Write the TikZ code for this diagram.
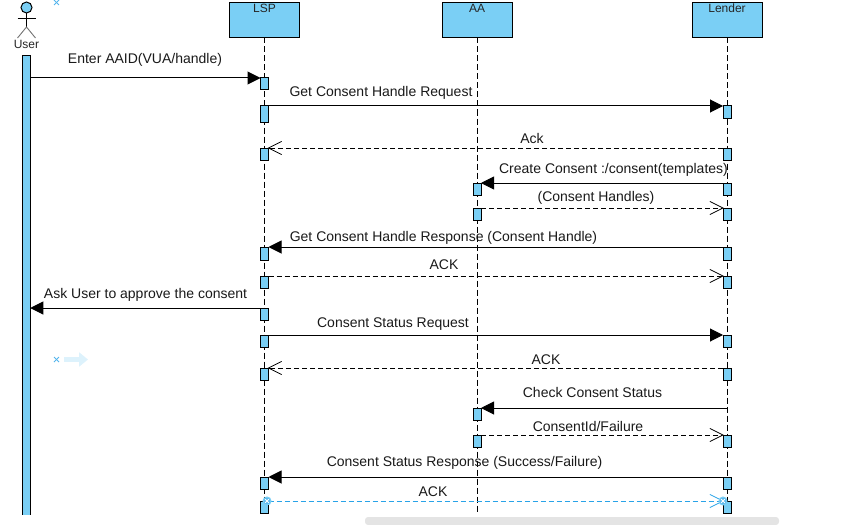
\documentclass[tikz,border=0pt]{standalone}
\usepackage{fontspec}
\setmainfont{Liberation Sans}
\usetikzlibrary{arrows.meta}
\definecolor{fillblue}{HTML}{7ACFF5}
\definecolor{selblue}{HTML}{29A3E8}
\definecolor{hintblue}{HTML}{DDF2FC}
\definecolor{barcol}{HTML}{E4E4E4}
\pgfdeclarearrow{
  name=OpenVee,
  setup code={
    \pgfarrowssettipend{0pt}
    \pgfarrowssetlineend{-1pt}
    \pgfarrowssetvisualbackend{-13pt}
    \pgfarrowssetbackend{-13pt}
  },
  drawing code={
    \pgfsetdash{}{0pt}
    \pgfsetlinewidth{.7pt}
    \pgfsetroundcap
    \pgfsetmiterjoin
    \pgfpathmoveto{\pgfpoint{-13pt}{6.5pt}}
    \pgfpathlineto{\pgfpointorigin}
    \pgfpathlineto{\pgfpoint{-13pt}{-6.5pt}}
    \pgfusepathqstroke
  }
}
\tikzset{
  x=1pt,y=-1pt,
  every node/.style={inner sep=0pt,outer sep=0pt},
  party/.style={draw=black,line width=1pt,fill=fillblue,minimum width=70pt,minimum height=35pt},
  partytext/.style={font=\fontsize{12}{14}\selectfont,text=black!85},
  life/.style={draw=black,line width=1pt,dash pattern=on 6pt off 3pt},
  act/.style={draw=black,line width=1pt,fill=fillblue,minimum width=8pt,minimum height=12pt},
  msgtext/.style={font=\fontsize{14}{16}\selectfont,text=black!90,anchor=base},
  sync/.style={draw=black,line width=1pt,-{Triangle[length=13pt,width=13pt,fill=black]}},
  reply/.style={draw=black,line width=1pt,dash pattern=on 5pt off 3pt,-{OpenVee}},
  hintx/.style={draw=selblue!80,line width=.9pt},
}
\begin{document}
\begin{tikzpicture}
\useasboundingbox (0,0) rectangle (842,524);
% scrollbar
\node[fill=barcol,rounded corners=3pt,minimum width=414pt,minimum height=8pt] (scroll) at (572,521) {};
% lifelines
\node[party] (lsp) at (264.5,20) {};
\node[party] (aa) at (477,20) {};
\node[party] (lender) at (727,20) {};
\node[partytext] (lsptxt) at (264.5,8) {LSP};
\node[partytext] (aatxt) at (477,8) {AA};
\node[partytext] (lendertxt) at (727,8) {Lender};
\coordinate (lspend) at (264.5,514);
\coordinate (aaend) at (477,514);
\coordinate (lenderend) at (727,514);
\draw[life] (lsp.south) -- (lspend);
\draw[life] (aa.south) -- (aaend);
\draw[life] (lender.south) -- (lenderend);
% actor
\node[draw=black,line width=1pt,fill=fillblue,circle,minimum size=11pt] (head) at (26.5,7.5) {};
\coordinate (hip) at (26.5,27);
\coordinate (armL) at (17.5,18);
\coordinate (armR) at (35.5,18);
\coordinate (footL) at (17.5,38);
\coordinate (footR) at (35.5,38);
\draw[black,line width=.9pt] (head.south) -- (hip);
\draw[black,line width=.9pt] (armL) -- (armR);
\draw[black!55,line width=.9pt] (footL) -- (hip) -- (footR);
\node[partytext] (usertxt) at (26.5,44.5) {User};
\node[fill=fillblue,minimum width=7.5pt,minimum height=459pt] (user) at (26.5,285) {};
\draw[black,line width=1pt] (user.south west) -- (user.north west) -- (user.north east) -- (user.south east);
% LSP activations
\foreach \n/\y/\h in {l1/84/12,l2/114/16,l3/154/12,l4/253.5/13,l5/282/12,l6/314/12,l7/341/12,l8/374/12,l9/483/12,l10/507/12}
  \node[act,minimum height=\h pt] (\n) at (264.5,\y) {};
% AA activations
\foreach \n/\y in {a1/189,a2/214,a3/414,a4/441}
  \node[act] (\n) at (477,\y) {};
% Lender activations
\foreach \n/\y/\h in {r1/112/12,r2/154/12,r3/189/12,r4/214/12,r5/253.5/13,r6/282/12,r7/341/12,r8/374/12,r10/441/12,r11/483/12,r12/507/12}
  \node[act,minimum height=\h pt] (\n) at (727,\y) {};
\coordinate (r9) at (727,408);
% messages
\draw[sync] (user.east |- l1.north) -- (l1.north west);
\draw[sync] (l2.north east) -- (r1.north west);
\draw[reply] (r2.north west) -- (l3.north east);
\draw[sync] (r3.north west) -- (a1.north east);
\draw[reply] (a2.north east) -- (r4.north west);
\draw[sync] (r5.north west) -- (l4.north east);
\draw[reply] (l5.north east) -- (r6.north west);
\draw[sync] (l6.north west) -- (user.east |- l6.north);
\draw[sync] (l7.north east) -- (r7.north west);
\draw[reply] (r8.north west) -- (l8.north east);
\draw[sync] (r9) -- (a3.north east);
\draw[reply] (a4.north east) -- (r10.north west);
\draw[sync] (r11.north west) -- (l9.north east);
\draw[reply,draw=selblue] (l10.north east) -- (r12.north west);
% selection handles
\foreach \n/\x in {hl/267,hr/723}{
  \node[circle,fill=selblue!75,draw=fillblue,line width=1pt,minimum size=8pt] (\n) at (\x,501) {};
  \draw[white,line width=1pt] ([shift={(-1.8,-1.8)}]\n.center) -- ([shift={(1.8,1.8)}]\n.center);
  \draw[white,line width=1pt] ([shift={(-1.8,1.8)}]\n.center) -- ([shift={(1.8,-1.8)}]\n.center);
}
% labels
\node[msgtext] (m1) at (145,64) {Enter AAID(VUA/handle)};
\node[msgtext] (m2) at (381,96) {Get Consent Handle Request};
\node[msgtext] (m3) at (532,143) {Ack};
\node[msgtext] (m4) at (613.5,173) {Create Consent :/consent(templates)};
\node[msgtext] (m5) at (596,201) {(Consent Handles)};
\node[msgtext] (m6) at (443.5,241) {Get Consent Handle Response (Consent Handle)};
\node[msgtext] (m7) at (444,269) {ACK};
\node[msgtext] (m8) at (145.5,298) {Ask User to approve the consent};
\node[msgtext] (m9) at (393,327) {Consent Status Request};
\node[msgtext] (m10) at (546,364) {ACK};
\node[msgtext] (m11) at (592.5,397) {Check Consent Status};
\node[msgtext] (m12) at (588,431) {ConsentId/Failure};
\node[msgtext] (m13) at (464.5,466) {Consent Status Response (Success/Failure)};
\node[msgtext] (m14) at (433,496) {ACK};
% hints
\coordinate (x1a) at (54,0); \coordinate (x1b) at (59,5);
\coordinate (x1c) at (54,5); \coordinate (x1d) at (59,0);
\draw[hintx] (x1a) -- (x1b); \draw[hintx] (x1c) -- (x1d);
\coordinate (x2a) at (54,357); \coordinate (x2b) at (59,362);
\coordinate (x2c) at (54,362); \coordinate (x2d) at (59,357);
\draw[hintx] (x2a) -- (x2b); \draw[hintx] (x2c) -- (x2d);
\coordinate (ha) at (64,359.5);
\coordinate (hb) at (88,359.5);
\draw[hintblue,line width=5pt,-{Triangle[length=9pt,width=14pt]}] (ha) -- (hb);
\end{tikzpicture}
\end{document}
